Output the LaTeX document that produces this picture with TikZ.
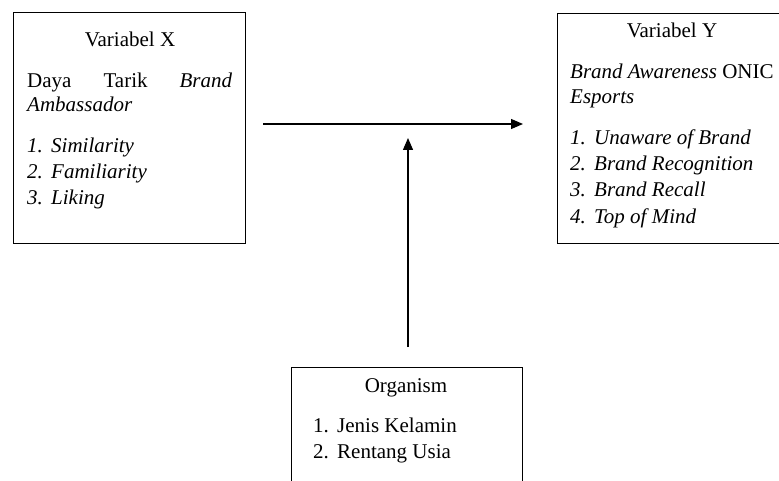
\documentclass[tikz,border=0pt]{standalone}
\usepackage{fontspec}
\setmainfont{Liberation Serif}[ItalicFont={Liberation Serif Italic}]
\usetikzlibrary{arrows.meta,calc}
\tikzset{
  varbox/.style={draw, line width=1.3pt, anchor=north west, inner sep=0pt},
  txt/.style={anchor=base west, inner sep=0pt},
  flow/.style={line width=1.3pt, -{Triangle[length=12pt,width=10pt]}}
}
\newcommand{\itemno}[2]{\makebox[24pt][l]{#1}#2}
\begin{document}
\begin{tikzpicture}[x=1pt,y=-1pt,font=\fontsize{21}{25}\selectfont]
\useasboundingbox (0,0) rectangle (779,481);
\clip (0,0) rectangle (779,481);
% boxes
\node[varbox, minimum width=232pt, minimum height=231pt] (varx) at (13,12) {};
\node[varbox, minimum width=240pt, minimum height=230pt] (vary) at (557,13) {};
\node[varbox, minimum width=231pt, minimum height=140pt] (org) at (291,367) {};
% variabel X
\node[anchor=base, inner sep=0pt] (titlex) at (130,47) {Variabel X};
\node[txt] (dayax) at (27,88) {\makebox[205pt]{Daya\hfill Tarik\hfill\textit{Brand}}};
\node[txt] (ambx) at (27,112) {\textit{Ambassador}};
\foreach \n/\t/\y in {1/Similarity/153, 2/Familiarity/179, 3/Liking/205}
  \node[txt] (x\n) at (27,\y) {\itshape\itemno{\n.}{\t}};
% variabel Y
\node[anchor=base, inner sep=0pt] (titley) at (672,38) {Variabel Y};
\node[txt] (bay) at (570,79) {\textit{Brand Awareness} ONIC};
\node[txt] (esy) at (570,104) {\textit{Esports}};
\foreach \n/\t/\y in {1/Unaware of Brand/145, 2/Brand Recognition/171, 3/Brand Recall/197, 4/Top of Mind/223}
  \node[txt] (y\n) at (570,\y) {\itshape\itemno{\n.}{\t}};
% organism
\node[anchor=base, inner sep=0pt] (titleo) at (406,392) {Organism};
\node[txt] (o1) at (313,432) {\itemno{1.}{Jenis Kelamin}};
\node[txt] (o2) at (313,458) {\itemno{2.}{Rentang Usia}};
% arrows
\coordinate (mid) at (408,124);
\draw[flow] ($(varx.east |- mid)+(17,0)$) -- ($(vary.west |- mid)+(-34,0)$);
\draw[flow] ($(mid |- org.north)+(0,-20)$) -- ($(mid)+(0,14)$);
\end{tikzpicture}
\end{document}
